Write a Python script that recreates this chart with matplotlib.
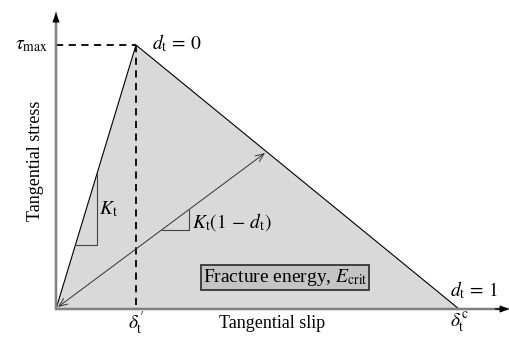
import matplotlib
matplotlib.use("Agg")
import matplotlib.pyplot as plt
import numpy as np

plt.rcParams['font.family'] = ['Liberation Serif', 'DejaVu Serif']
plt.rcParams['mathtext.fontset'] = 'stix'

# Conceptual bilinear traction-separation law (arbitrary units)
delta_peak = 0.80      # slip at peak stress, delta_t'
tau_max = 2.64         # peak tangential stress
delta_c = 4.03         # critical slip, delta_t^c
unload_point = [2.09, 1.56]   # end of unloading/reloading arrow
x_axis_end = 4.53
y_axis_end = 2.96

# small slope triangles: (level y, right x)
kt_tri = [0.64, 0.41]
kd_tri = [0.79, 1.33]

fig = plt.figure(figsize=(5.10, 3.37), dpi=100)
ax = fig.add_axes([0, 0, 1, 1])
ax.set_xlim(-0.56, 4.54)
ax.set_ylim(-0.28, 3.09)
ax.axis('off')

# filled triangle
ax.fill([0, delta_peak, delta_c], [0, tau_max, 0], facecolor='#d9d9d9',
        edgecolor='black', linewidth=0.8, zorder=1)

# axes with arrows
for xy in [(0, y_axis_end), (x_axis_end, 0)]:
    ax.annotate('', xy=xy, xytext=(0, 0),
                arrowprops=dict(arrowstyle='-', color='#808080', lw=1.8,
                                shrinkA=0, shrinkB=0), zorder=3)
    ax.annotate('', xy=xy, xytext=(xy[0] * 0.97, xy[1] * 0.97),
                arrowprops=dict(arrowstyle='-|>,head_length=0.5,head_width=0.2',
                                color='black', lw=1.0,
                                shrinkA=0, shrinkB=0), zorder=4)

# dashed guide lines
ax.plot([0, delta_peak], [tau_max, tau_max], color='black', lw=1.3,
        dashes=(4, 3), zorder=2)
ax.plot([delta_peak, delta_peak], [tau_max, 0], color='black', lw=1.3,
        dashes=(4, 3), zorder=2)

# unloading / reloading double arrow
ax.annotate('', xy=tuple(unload_point), xytext=(0.02, 0.02),
            arrowprops=dict(arrowstyle='<->,head_length=0.6,head_width=0.25',
                            color='#333333', lw=0.7,
                            shrinkA=0, shrinkB=0), zorder=3)

# slope triangles
k1 = tau_max / delta_peak
y0, xr = kt_tri
ax.plot([y0 / k1, xr, xr], [y0, y0, k1 * xr], color='#444444', lw=0.8, zorder=2)
k2 = unload_point[1] / unload_point[0]
y0, xr = kd_tri
ax.plot([y0 / k2, xr, xr], [y0, y0, k2 * xr], color='#444444', lw=0.8, zorder=2)

fs = 14
ts = 13
ax.text(0.43, 1.0, r'$K_{\mathrm{t}}$', fontsize=fs, ha='left', va='center')
ax.text(1.36, 0.87, r'$K_{\mathrm{t}}(1\,-\,d_{\mathrm{t}})$', fontsize=fs,
        ha='left', va='center')
ax.text(-0.08, tau_max, r'$\tau_{\max}$', fontsize=fs, ha='right', va='center')
ax.text(0.96, tau_max + 0.02, r'$d_{\mathrm{t}}\,=\,0$', fontsize=fs, ha='left',
        va='center')
ax.text(3.94, 0.19, r'$d_{\mathrm{t}}\,=\,1$', fontsize=fs, ha='left', va='center')
ax.text(delta_peak, -0.14, r'$\delta_{\mathrm{t}}^{\prime}$', fontsize=fs,
        ha='center', va='center')
ax.text(delta_c, -0.14, r'$\delta_{\mathrm{t}}^{\mathrm{c}}$', fontsize=fs,
        ha='center', va='center')
ax.text(2.16, -0.15, 'Tangential slip', fontsize=ts, ha='center', va='center')
ax.text(-0.20, 1.48, 'Tangential stress', fontsize=ts, ha='center',
        va='center', rotation=90)
ax.text(2.29, 0.315, r'Fracture energy, $E_{\mathrm{crit}}$', fontsize=14,
        ha='center', va='center',
        bbox=dict(boxstyle='square,pad=0.1', facecolor='#c4c4c4',
                  edgecolor='#333333', linewidth=1.3))

fig.savefig('out.png', dpi=100)
